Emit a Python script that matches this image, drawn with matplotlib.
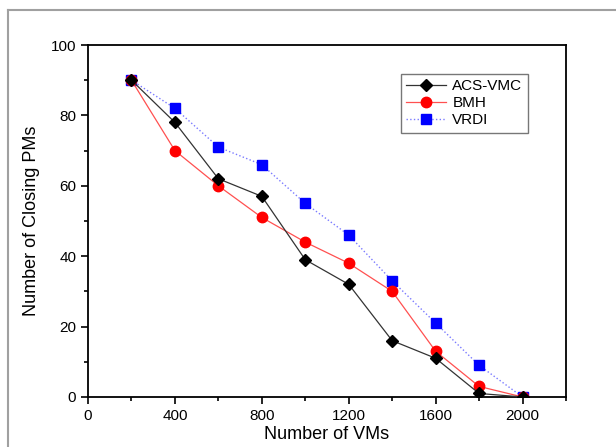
import numpy as np
import matplotlib.pyplot as plt
from matplotlib.lines import Line2D

plt.rcParams['font.family'] = ['Liberation Sans', 'DejaVu Sans']

vms = [200, 400, 600, 800, 1000, 1200, 1400, 1600, 1800, 2000]
acs_vmc = [90, 78, 62, 57, 39, 32, 16, 11, 1, 0]
bmh = [90, 70, 60, 51, 44, 38, 30, 13, 3, 0]
vrdi = [90, 82, 71, 66, 55, 46, 33, 21, 9, 0]

fig = plt.figure(figsize=(6.16, 4.47), dpi=100)
ax = fig.add_axes([0.1429, 0.1119, 0.7759, 0.7874])

# frame around the figure (top and left only visible)
fig.add_artist(Line2D([8/616, 8/616], [0, 1-10/447], transform=fig.transFigure, color='#a0a0a0', lw=1.5))
fig.add_artist(Line2D([8/616, 1], [1-10/447, 1-10/447], transform=fig.transFigure, color='#a0a0a0', lw=1.5))

ax.plot(vms, vrdi, ':', color='#7a7aff', lw=1.0, marker='s', ms=6.5, mfc='blue', mec='blue', label='VRDI', zorder=2)
ax.plot(vms, bmh, '-', color='#ff5050', lw=0.9, marker='o', ms=7.5, mfc='red', mec='red', label='BMH', zorder=3)
ax.plot(vms, acs_vmc, '-', color='#333333', lw=0.9, marker='D', ms=6.5, mfc='black', mec='black', label='ACS-VMC', zorder=4)

ax.set_xlim(0, 2200)
ax.set_ylim(0, 100)
ax.set_xticks(np.arange(0, 2001, 400))
ax.set_xticks(np.arange(0, 2201, 200), minor=True)
ax.set_yticks(np.arange(0, 101, 20))
ax.set_yticks(np.arange(0, 101, 10), minor=True)
ax.tick_params(which='major', direction='out', length=5, width=1.2, labelsize=11)
ax.tick_params(which='minor', direction='out', length=3, width=1.2)
for s in ax.spines.values():
    s.set_linewidth(1.3)

ax.set_xlabel('Number of VMs', fontsize=13, labelpad=2)
ax.set_ylabel('Number of Closing PMs', fontsize=13, labelpad=8)

h, l = ax.get_legend_handles_labels()
leg = ax.legend(h[::-1], l[::-1], loc='upper left', bbox_to_anchor=(0.655, 0.918),
                borderaxespad=0, fontsize=11, frameon=True, fancybox=False, edgecolor='#555555',
                handlelength=2.6, handletextpad=0.4, borderpad=0.35, labelspacing=0.2)
leg.get_frame().set_linewidth(1.0)

fig.savefig('out.png', dpi=100)
